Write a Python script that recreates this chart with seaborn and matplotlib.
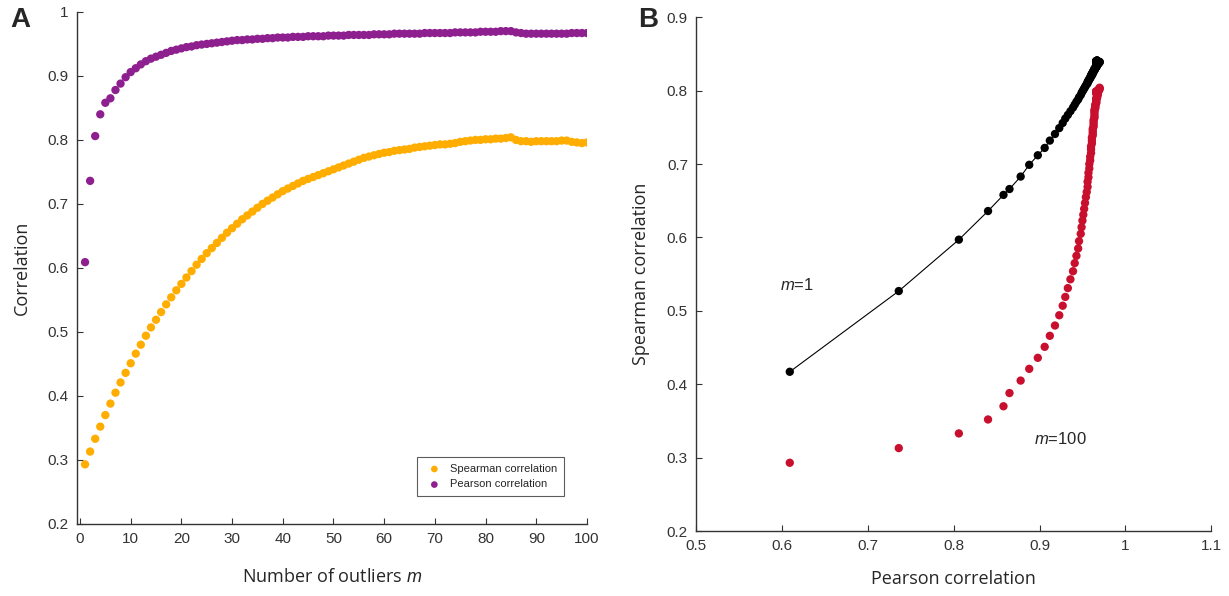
import matplotlib
matplotlib.use("Agg")
import matplotlib.pyplot as plt
import seaborn as sns
import pandas as pd
import numpy as np

# ---- data ----
m_values = list(range(1, 101))

pearson = [
    0.609, 0.736, 0.806, 0.840, 0.858, 0.865, 0.878, 0.888, 0.898, 0.906,
    0.912, 0.918, 0.923, 0.927, 0.930, 0.933, 0.936, 0.939, 0.941, 0.943,
    0.945, 0.946, 0.948, 0.949, 0.950, 0.951, 0.952, 0.953, 0.954, 0.955,
    0.956, 0.956, 0.957, 0.957, 0.958, 0.958, 0.959, 0.959, 0.960, 0.960,
    0.960, 0.961, 0.961, 0.961, 0.962, 0.962, 0.962, 0.962, 0.963, 0.963,
    0.963, 0.963, 0.964, 0.964, 0.964, 0.964, 0.964, 0.965, 0.965, 0.965,
    0.965, 0.966, 0.966, 0.966, 0.966, 0.966, 0.966, 0.967, 0.967, 0.967,
    0.967, 0.967, 0.967, 0.968, 0.968, 0.968, 0.968, 0.968, 0.969, 0.969,
    0.969, 0.969, 0.970, 0.970, 0.970, 0.968, 0.967, 0.966, 0.966, 0.966,
    0.966, 0.966, 0.966, 0.966, 0.966, 0.966, 0.967, 0.967, 0.967, 0.967,
]

spearman = [
    0.293, 0.313, 0.333, 0.352, 0.370, 0.388, 0.405, 0.421, 0.436, 0.451,
    0.466, 0.480, 0.494, 0.507, 0.519, 0.531, 0.543, 0.554, 0.565, 0.575,
    0.585, 0.595, 0.605, 0.614, 0.623, 0.631, 0.639, 0.647, 0.655, 0.662,
    0.669, 0.676, 0.682, 0.688, 0.694, 0.700, 0.705, 0.710, 0.715, 0.720,
    0.724, 0.728, 0.732, 0.736, 0.739, 0.742, 0.745, 0.748, 0.751, 0.754,
    0.757, 0.760, 0.763, 0.766, 0.769, 0.772, 0.774, 0.776, 0.778, 0.780,
    0.781, 0.783, 0.784, 0.785, 0.786, 0.788, 0.789, 0.790, 0.791, 0.792,
    0.793, 0.793, 0.794, 0.795, 0.797, 0.798, 0.799, 0.800, 0.800, 0.801,
    0.801, 0.802, 0.802, 0.803, 0.804, 0.800, 0.798, 0.798, 0.797, 0.798,
    0.798, 0.798, 0.798, 0.798, 0.799, 0.799, 0.797, 0.796, 0.795, 0.796,
]

spearman_black = [
    0.417, 0.527, 0.597, 0.636, 0.658, 0.666, 0.683, 0.699, 0.712, 0.722,
    0.732, 0.741, 0.749, 0.756, 0.762, 0.767, 0.772, 0.777, 0.781, 0.785,
    0.788, 0.791, 0.794, 0.797, 0.799, 0.801, 0.803, 0.805, 0.807, 0.809,
    0.810, 0.812, 0.813, 0.814, 0.815, 0.816, 0.817, 0.818, 0.819, 0.820,
    0.821, 0.821, 0.822, 0.823, 0.823, 0.824, 0.825, 0.825, 0.826, 0.826,
    0.827, 0.827, 0.828, 0.828, 0.829, 0.829, 0.830, 0.830, 0.831, 0.831,
    0.831, 0.832, 0.832, 0.833, 0.833, 0.833, 0.834, 0.834, 0.834, 0.835,
    0.835, 0.835, 0.836, 0.836, 0.836, 0.837, 0.837, 0.837, 0.838, 0.838,
    0.838, 0.838, 0.839, 0.839, 0.839, 0.839, 0.839, 0.839, 0.839, 0.840,
    0.840, 0.840, 0.840, 0.840, 0.840, 0.840, 0.841, 0.841, 0.841, 0.841,
]

a_xticks = [0, 10, 20, 30, 40, 50, 60, 70, 80, 90, 100]
a_yticks = [0.2, 0.3, 0.4, 0.5, 0.6, 0.7, 0.8, 0.9, 1.0]
a_ylabels = ["0.2", "0.3", "0.4", "0.5", "0.6", "0.7", "0.8", "0.9", "1"]
b_xticks = [0.5, 0.6, 0.7, 0.8, 0.9, 1.0, 1.1]
b_xlabels = ["0.5", "0.6", "0.7", "0.8", "0.9", "1", "1.1"]
b_yticks = [0.2, 0.3, 0.4, 0.5, 0.6, 0.7, 0.8, 0.9]
b_ylabels = ["0.2", "0.3", "0.4", "0.5", "0.6", "0.7", "0.8", "0.9"]

ORANGE = "#FFAD00"
PURPLE = "#8E1F8F"
RED = "#C8102E"

sns.set_theme(style="white")
plt.rcParams["font.family"] = ["Liberation Sans", "DejaVu Sans"]
plt.rcParams["mathtext.fontset"] = "custom"
plt.rcParams["mathtext.it"] = "Liberation Sans:italic"
plt.rcParams["mathtext.rm"] = "Liberation Sans"

df = pd.DataFrame({"m": m_values, "pearson": pearson,
                   "spearman": spearman, "black": spearman_black})

fig = plt.figure(figsize=(12.29, 5.96), dpi=100)
axA = fig.add_axes([0.0626, 0.121, 0.415, 0.859])
axB = fig.add_axes([0.5665, 0.109, 0.419, 0.862])

# ---- Panel A ----
sns.scatterplot(data=df, x="m", y="spearman", ax=axA, color=ORANGE, s=36,
                edgecolor="none", label="Spearman correlation")
sns.scatterplot(data=df, x="m", y="pearson", ax=axA, color=PURPLE, s=36,
                edgecolor="none", label="Pearson correlation")
axA.set_xlim(-0.6, 100)
axA.set_ylim(0.2, 1.0)
axA.set_xticks(a_xticks)
axA.set_xticklabels([str(t) for t in a_xticks])
axA.set_yticks(a_yticks)
axA.set_yticklabels(a_ylabels)
axA.set_xlabel("Number of outliers $m$", family="Open Sans", fontsize=13, labelpad=16)
axA.set_ylabel("Correlation", family="Open Sans", fontsize=13, labelpad=12)
leg = axA.legend(loc="upper left", bbox_to_anchor=(0.655, 0.141), fontsize=8,
                 frameon=True, fancybox=False, edgecolor="#333333",
                 handletextpad=0.4, handlelength=2.0, borderpad=0.6,
                 labelspacing=0.5, markerscale=0.8)
leg.get_frame().set_linewidth(0.8)

# ---- Panel B ----
sns.lineplot(data=df, x="pearson", y="black", ax=axB, color="black", lw=0.8,
             sort=False, estimator=None)
sns.scatterplot(data=df, x="pearson", y="black", ax=axB, color="black", s=36,
                edgecolor="none")
sns.scatterplot(data=df, x="pearson", y="spearman", ax=axB, color=RED, s=36,
                edgecolor="none")
axB.set_xlim(0.5, 1.1)
axB.set_ylim(0.2, 0.9)
axB.set_xticks(b_xticks)
axB.set_xticklabels(b_xlabels)
axB.set_yticks(b_yticks)
axB.set_yticklabels(b_ylabels)
axB.set_xlabel("Pearson correlation", family="Open Sans", fontsize=13, labelpad=12)
axB.set_ylabel("Spearman correlation", family="Open Sans", fontsize=13, labelpad=12)
axB.text(0.598, 0.535, "$m$=1", fontsize=12, va="center")
axB.text(0.893, 0.326, "$m$=100", fontsize=12, va="center")

for ax in (axA, axB):
    sns.despine(ax=ax)
    for sp in ("left", "bottom"):
        ax.spines[sp].set_color("#333333")
        ax.spines[sp].set_linewidth(1.0)
    ax.tick_params(direction="in", length=4, width=0.8, colors="#333333",
                   labelcolor="#333333", labelsize=11, left=True, bottom=True, pad=6)

fig.text(0.008, 0.955, "A", fontsize=20, fontweight="bold")
fig.text(0.519, 0.955, "B", fontsize=20, fontweight="bold")

fig.savefig("out.png", dpi=100)
